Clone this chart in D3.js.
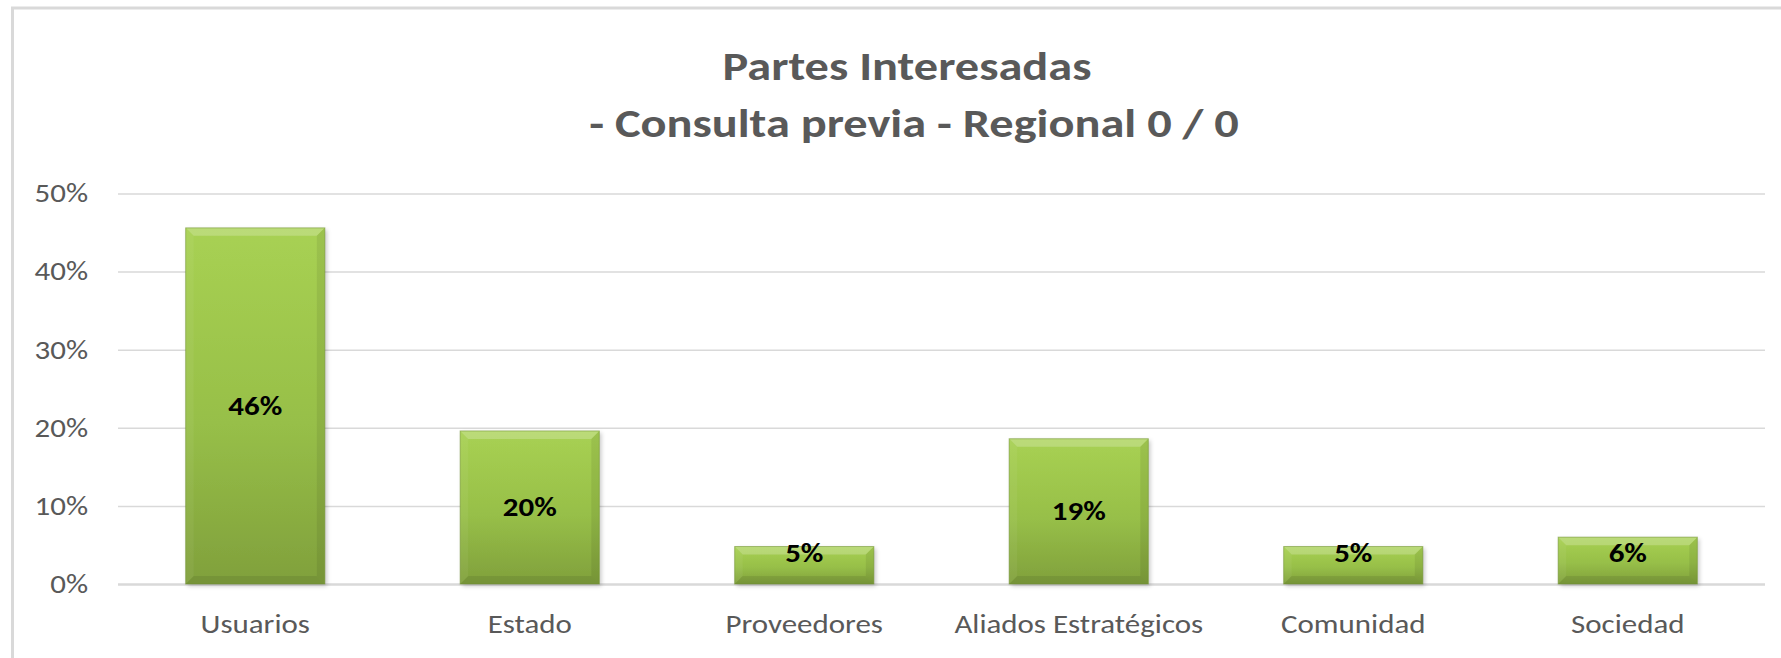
<!DOCTYPE html>
<html><head><meta charset="utf-8">
<script src="https://cdn.jsdelivr.net/npm/d3@7"></script>
<style>body{margin:0;background:#fff} svg{display:block}</style>
</head><body><svg id="c" width="1781" height="658"></svg>
<script>
const categories = ["Usuarios","Estado","Proveedores","Aliados Estratégicos","Comunidad","Sociedad"];
const values = [0.456, 0.196, 0.048, 0.186, 0.048, 0.060];
const yTicks = [0, 0.1, 0.2, 0.3, 0.4, 0.5];
const titleLines = ["Partes Interesadas", "- Consulta previa - Regional 0 / 0"];

const W = 1781, H = 658;
const FONT = "Calibri, Carlito, Lato, 'Open Sans', sans-serif";
const SX = 1.19; // horizontal stretch seen in the reference rendering
const svg = d3.select("#c");
const defs = svg.append("defs");

const g1 = defs.append("linearGradient").attr("id","barGrad").attr("x1",0).attr("y1",0).attr("x2",0).attr("y2",1);
g1.append("stop").attr("offset","0%").attr("stop-color","#a8d153");
g1.append("stop").attr("offset","55%").attr("stop-color","#97bf48");
g1.append("stop").attr("offset","100%").attr("stop-color","#80a03c");

const f = defs.append("filter").attr("id","sh").attr("x","-10%").attr("y","-10%").attr("width","130%").attr("height","130%");
f.append("feDropShadow").attr("dx",2).attr("dy",2).attr("stdDeviation",2).attr("flood-color","#000").attr("flood-opacity",0.22);

// chart border
svg.append("rect").attr("x",12.5).attr("y",8).attr("width",W+20).attr("height",H+20)
  .attr("fill","#fff").attr("stroke","#d9d9d9").attr("stroke-width",3);

const x = d3.scaleBand().domain(categories).range([118, 1765]).paddingInner(0.493).paddingOuter(0.2465);
const y = d3.scaleLinear().domain([0, 0.5]).range([584, 193.5]);

// gridlines
svg.append("g").attr("transform","translate(118,0)")
  .call(d3.axisLeft(y).tickValues(yTicks).tickSize(-(1765-118)).tickFormat(""))
  .call(g => g.select(".domain").remove())
  .call(g => g.selectAll(".tick line").attr("stroke","#d9d9d9").attr("stroke-width",1.5))
  .call(g => g.selectAll(".tick").filter(d => d === 0).select("line").attr("stroke-width",2.5));

// y labels
svg.append("g").attr("transform","translate(88,0)")
  .call(d3.axisLeft(y).tickValues(yTicks).tickSize(0).tickPadding(0).tickFormat(d3.format(".0%")))
  .call(g => g.select(".domain").remove())
  .call(g => g.selectAll("text").attr("fill","#595959").attr("font-family",FONT).attr("font-size",26)
    .attr("transform",`scale(${SX},1)`));

// x labels
svg.append("g").attr("transform","translate(0,584)")
  .call(d3.axisBottom(x).tickSize(0).tickPadding(31))
  .call(g => g.select(".domain").remove())
  .call(g => g.selectAll("text").attr("fill","#595959").attr("font-family",FONT).attr("font-size",26)
    .attr("transform",`scale(${SX},1)`));

// bars
const b = 8;
const bars = svg.append("g").selectAll("g.bar").data(categories.map((c,i)=>({c, v: values[i]}))).join("g").attr("class","bar");
bars.append("rect")
  .attr("x", d => x(d.c)).attr("y", d => y(d.v))
  .attr("width", x.bandwidth()).attr("height", d => y(0) - y(d.v))
  .attr("fill","url(#barGrad)").attr("filter","url(#sh)");
const poly = (pts) => pts.map(p => p.join(",")).join(" ");
bars.each(function(d){
  const gg = d3.select(this);
  const x0 = x(d.c), x1 = x0 + x.bandwidth(), y0 = y(d.v), y1 = y(0);
  gg.append("polygon").attr("points", poly([[x0,y0],[x1,y0],[x1-b,y0+b],[x0+b,y0+b]])).attr("fill","#ffffff").attr("fill-opacity",0.22);
  gg.append("polygon").attr("points", poly([[x0,y0],[x0+b,y0+b],[x0+b,y1-b],[x0,y1]])).attr("fill","#ffffff").attr("fill-opacity",0.05);
  gg.append("polygon").attr("points", poly([[x1,y0],[x1-b,y0+b],[x1-b,y1-b],[x1,y1]])).attr("fill","#000000").attr("fill-opacity",0.07);
  gg.append("polygon").attr("points", poly([[x0,y1],[x1,y1],[x1-b,y1-b],[x0+b,y1-b]])).attr("fill","#000000").attr("fill-opacity",0.08);
  gg.append("rect").attr("x",x0).attr("y",y0).attr("width",x.bandwidth()).attr("height",y1-y0)
    .attr("fill","none").attr("stroke","#6f8f30").attr("stroke-opacity",0.55).attr("stroke-width",1);
});

// data labels
bars.append("text")
  .attr("transform", d => `translate(${x(d.c) + x.bandwidth()/2},${Math.min((y(d.v) + y(0))/2, y(0) - 31)}) scale(${SX},1)`)
  .attr("text-anchor","middle").attr("dominant-baseline","central")
  .attr("font-family",FONT).attr("font-weight","bold").attr("font-size",26).attr("fill","#000")
  .text(d => d3.format(".0%")(d.v));

// title
const tpos = [[907, 80], [914, 137]];
svg.append("g").selectAll("text").data(titleLines).join("text")
  .attr("transform",(d,i)=>`translate(${tpos[i][0]},${tpos[i][1]}) scale(${SX+0.02},1)`)
  .attr("font-family",FONT).attr("font-weight","bold").attr("font-size",40).attr("fill","#595959")
  .attr("text-anchor","middle").text(d=>d);
</script></body></html>
